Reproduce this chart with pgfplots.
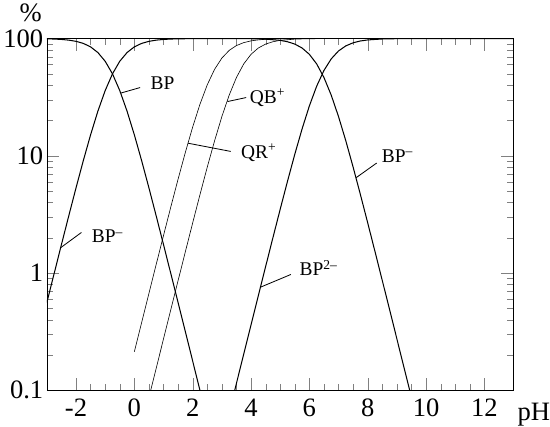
\documentclass[border=0pt]{standalone}
\usepackage{fontspec}
\setmainfont{Liberation Serif}
\usepackage{pgfplots}
\pgfplotsset{compat=1.18}

\begin{document}
\begin{tikzpicture}
\begin{axis}[
    name=ax,
    scale only axis,
    width=455.3bp, height=343.2bp,
    xmin=-3, xmax=13,
    ymin=0.1, ymax=100,
    ymode=log,
    xtick={-2,0,2,4,6,8,10,12},
    xticklabels={-2,0,2,4,6,8,10,12},
    minor x tick num=3,
    ytick={0.1,1,10,100},
    yticklabels={0.1,1,10,100},
    major tick length=12pt,
    minor tick length=6.5pt,
    ticklabel style={font=\fontsize{26}{28}\selectfont},
    xticklabel style={yshift=-5bp},
]
% BP
\addplot[black, line width=1bp] coordinates {
 (-3,99.44) (-2.75,99.01) (-2.5,98.25) (-2.25,96.93) (-2,94.68) (-1.75,90.91)
 (-1.5,84.91) (-1.25,75.97) (-1,64.01) (-0.75,50) (-0.5,36.00) (-0.25,24.03)
 (0,15.10) (0.25,9.09) (0.5,5.325) (0.75,3.065) (1,1.748) (1.25,0.990)
 (1.5,0.5593) (1.75,0.3153) (2,0.1775) (2.25,0.0999) (2.5,0.0562)
};
% BP-
\addplot[black, line width=1bp] coordinates {
 (-3,0.5593) (-2.75,0.9901) (-2.5,1.748) (-2.25,3.065) (-2,5.325) (-1.75,9.091)
 (-1.5,15.10) (-1.25,24.03) (-1,36.00) (-0.75,50) (-0.5,64.01) (-0.25,75.97)
 (0,84.91) (0.25,90.91) (0.5,94.68) (0.75,96.93) (1,98.25) (1.25,99.01)
 (1.5,99.44) (2,99.82) (3,99.95) (3.5,99.88) (4,99.64) (4.5,98.87)
 (5,96.50) (5.25,93.93) (5.5,89.70) (5.75,83.05) (6,73.36) (6.25,60.77)
 (6.5,46.55) (6.75,32.87) (7,21.59) (7.25,13.41) (7.5,8.013) (7.75,4.668)
 (8,2.680) (8.25,1.525) (8.5,0.8636) (8.75,0.4873) (9,0.2747) (9.25,0.1546)
 (9.5,0.08703) (9.75,0.04895)
};
% BP2-
\addplot[black, line width=1bp] coordinates {
 (3.25,0.06452) (3.5,0.1147) (3.75,0.2037) (4,0.3618) (4.25,0.6414) (4.5,1.135)
 (4.75,2.001) (5,3.504) (5.25,6.064) (5.5,10.30) (5.75,16.95) (6,26.64)
 (6.25,39.23) (6.5,53.45) (6.75,67.12) (7,78.41) (7.25,86.59) (7.5,91.99)
 (7.75,95.33) (8,97.32) (8.5,99.14) (9,99.73) (10,99.97) (11,100) (13,100)
};
% QR+
\addplot[black, line width=0.6bp] coordinates {
 (0,0.2134) (0.25,0.3788) (0.5,0.6716) (0.75,1.188) (1,2.093) (1.25,3.663)
 (1.5,6.333) (1.75,10.73) (2,17.61) (2.25,27.55) (2.5,40.34) (2.75,54.59)
 (3,68.14) (3.25,79.18) (3.5,87.12) (3.75,92.32) (4,95.53) (4.25,97.44)
 (4.5,98.54) (5,99.53) (6,99.95) (8,100) (13,100)
};
% QB+
\addplot[black, line width=0.6bp] coordinates {
 (0,0.02753) (0.25,0.04895) (0.5,0.08703) (0.75,0.1546) (1,0.2747) (1.25,0.4873)
 (1.5,0.8636) (1.75,1.525) (2,2.680) (2.25,4.668) (2.5,8.013) (2.75,13.41)
 (3,21.59) (3.25,32.87) (3.5,46.55) (3.75,60.77) (4,73.36) (4.25,83.05)
 (4.5,89.70) (4.75,93.93) (5,96.50) (5.5,98.87) (6,99.64) (7,99.96)
 (8,100) (13,100)
};

% labels with leader lines
\draw[line width=0.8bp] (axis cs:-0.46,34.3) -- (axis cs:0.198,38.2);
\node[anchor=base west, inner sep=0, font=\fontsize{19}{21}\selectfont] at (axis cs:0.551,36.9) {BP};
\draw[line width=0.8bp] (axis cs:3.19,29.0) -- (axis cs:3.834,31.4);
\node[anchor=base west, inner sep=0, font=\fontsize{19}{21}\selectfont] at (axis cs:3.954,28.1) {QB\textsuperscript{+}};
\draw[line width=0.8bp] (axis cs:1.846,12.8) -- (axis cs:3.304,10.9);
\node[anchor=base west, inner sep=0, font=\fontsize{19}{21}\selectfont] at (axis cs:3.657,9.53) {QR\textsuperscript{+}};
\draw[line width=0.8bp] (axis cs:7.60,6.5) -- (axis cs:8.306,8.67);
\node[anchor=base west, inner sep=0, font=\fontsize{19}{21}\selectfont] at (axis cs:8.482,8.79) {BP\textsuperscript{\textendash}};
\draw[line width=0.8bp] (axis cs:-2.52,1.65) -- (axis cs:-1.814,2.22);
\node[anchor=base west, inner sep=0, font=\fontsize{19}{21}\selectfont] at (axis cs:-1.461,1.82) {BP\textsuperscript{\textendash}};
\draw[line width=0.8bp] (axis cs:4.307,0.755) -- (axis cs:5.366,0.973);
\node[anchor=base west, inner sep=0, font=\fontsize{19}{21}\selectfont] at (axis cs:5.659,0.953) {BP\textsuperscript{2\textendash}};
\end{axis}
\node[font=\fontsize{26}{28}\selectfont] at ([xshift=-15.7bp, yshift=25.5bp]ax.north west) {\%};
\node[anchor=base west, inner sep=0, font=\fontsize{26}{28}\selectfont] at ([xshift=3.7bp, yshift=-29.6bp]ax.south east) {pH};
\end{tikzpicture}
\end{document}
